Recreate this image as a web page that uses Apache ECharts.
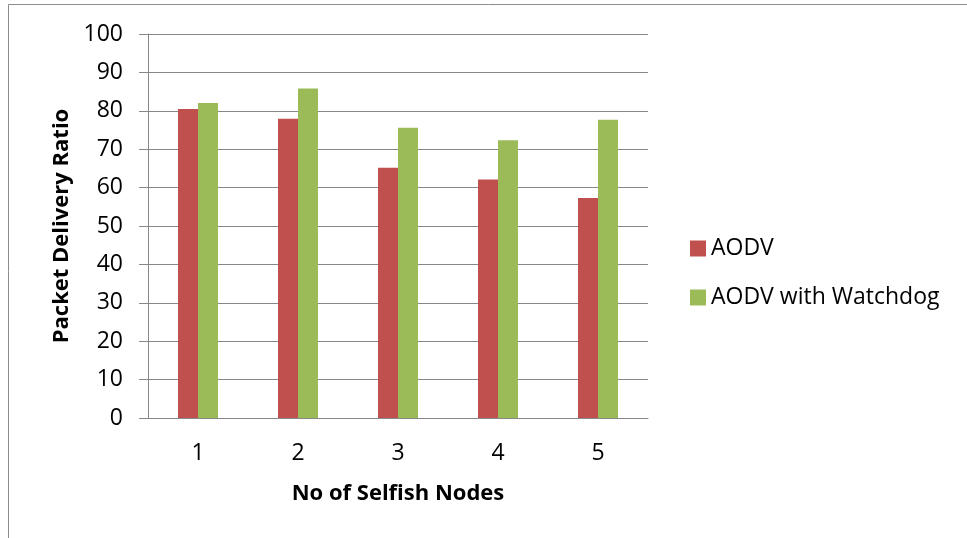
<!DOCTYPE html>
<html>
<head>
<meta charset="utf-8">
<script src="https://cdn.jsdelivr.net/npm/echarts@6/dist/echarts.min.js"></script>
<style>
  html, body { margin: 0; padding: 0; background: #fff; }
  #chart { width: 967px; height: 538px; }
</style>
</head>
<body>
<div id="chart"></div>
<script>
// Packet delivery ratio vs. number of selfish nodes
const categories = ['1', '2', '3', '4', '5'];
const aodv = [80.5, 77.9, 65.2, 62.1, 57.3];
const aodvWatchdog = [82.0, 85.8, 75.6, 72.3, 77.7];
const seriesNames = ['AODV', 'AODV with Watchdog'];

const FONT = '"Open Sans", "Noto Sans", sans-serif';
const LABEL_SIZE = 23;
const TITLE_SIZE = 22;
const GRID_GRAY = '#878787';

const chart = echarts.init(document.getElementById('chart'), null, { renderer: 'canvas' });
chart.setOption({
  animation: false,
  backgroundColor: '#ffffff',
  textStyle: { fontFamily: FONT, color: '#000' },
  graphic: [{
    type: 'rect',
    shape: { x: 8.5, y: 4.5, width: 980, height: 560 },
    style: { fill: 'none', stroke: '#8c8c8c', lineWidth: 1 },
    silent: true
  }],
  grid: { left: 148, top: 34, width: 500, height: 384, containLabel: false },
  legend: {
    orient: 'vertical',
    left: 685,
    top: 232,
    itemWidth: 16,
    itemHeight: 16,
    itemGap: 26,
    icon: 'rect',
    textStyle: { fontFamily: FONT, fontSize: LABEL_SIZE, color: '#000' },
    data: seriesNames
  },
  xAxis: {
    type: 'category',
    data: categories,
    axisTick: { show: false },
    axisLine: { lineStyle: { color: GRID_GRAY, width: 1 } },
    axisLabel: { fontFamily: FONT, fontSize: LABEL_SIZE, color: '#000', margin: 24 },
    name: 'No of Selfish Nodes',
    nameLocation: 'middle',
    nameGap: 65,
    nameTextStyle: { fontFamily: FONT, fontSize: TITLE_SIZE, fontWeight: 'bold', color: '#000' }
  },
  yAxis: {
    type: 'value',
    min: 0,
    max: 100,
    interval: 10,
    axisLine: { show: true, lineStyle: { color: GRID_GRAY, width: 1 } },
    axisTick: { show: true, length: 9, lineStyle: { color: GRID_GRAY } },
    axisLabel: { fontFamily: FONT, fontSize: LABEL_SIZE, color: '#000', margin: 25 },
    splitLine: { lineStyle: { color: GRID_GRAY, width: 1 } },
    name: 'Packet Delivery Ratio',
    nameLocation: 'middle',
    nameGap: 73,
    nameTextStyle: { fontFamily: FONT, fontSize: TITLE_SIZE, fontWeight: 'bold', color: '#000' }
  },
  series: [
    {
      name: seriesNames[0],
      type: 'bar',
      data: aodv,
      barWidth: 20,
      barGap: '0%',
      itemStyle: { color: '#C0504D' }
    },
    {
      name: seriesNames[1],
      type: 'bar',
      data: aodvWatchdog,
      barWidth: 20,
      barGap: '0%',
      itemStyle: { color: '#9BBB59' }
    }
  ]
});
</script>
</body>
</html>
